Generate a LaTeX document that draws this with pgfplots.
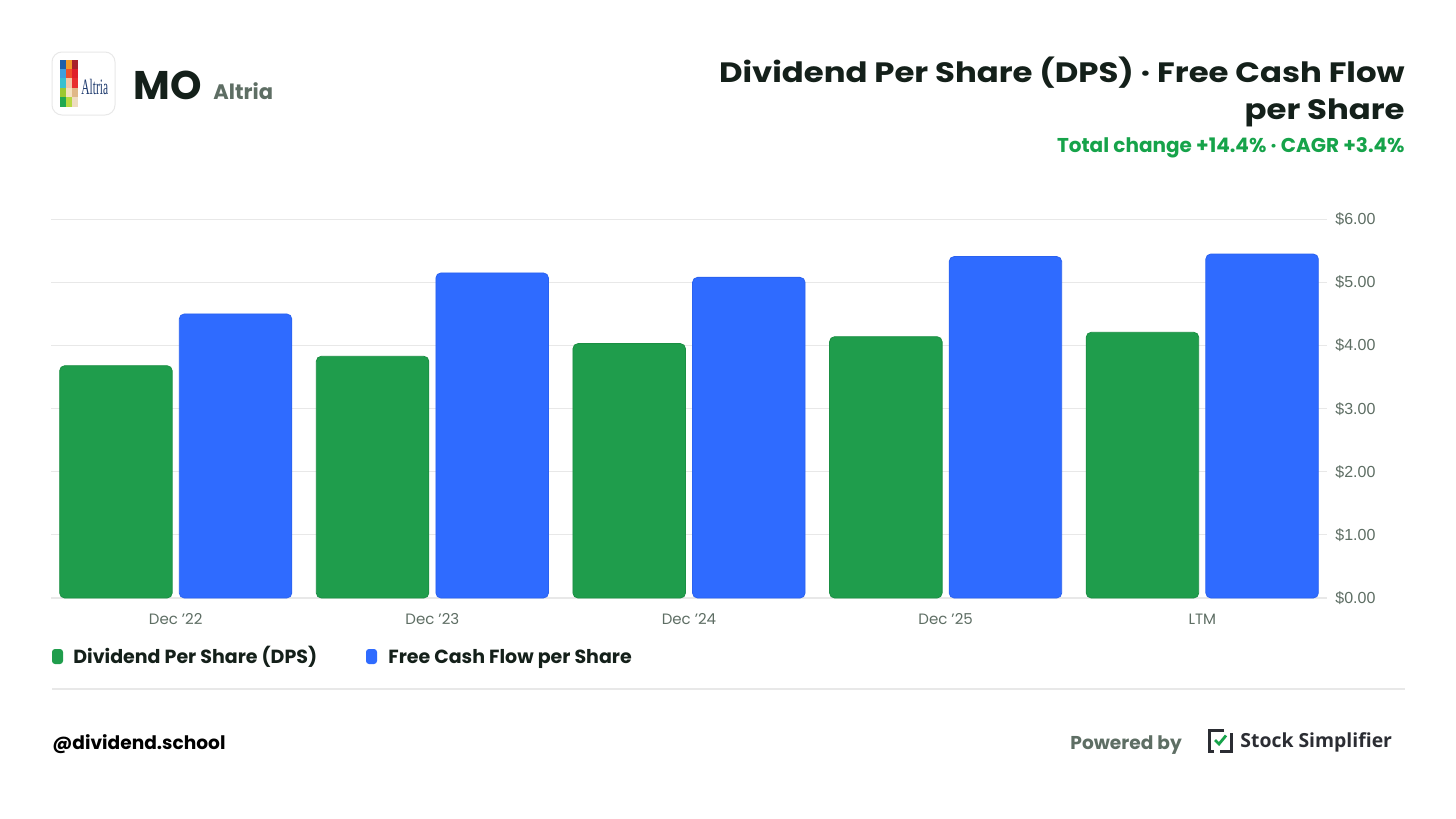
\documentclass[border=0pt]{standalone}
\usepackage{pgfplots}
\pgfplotsset{compat=1.18}
\usepackage{fontspec}
\setmainfont{Poppins}
\newfontfamily\titlefont[FakeStretch=1.155]{Poppins}
\newfontfamily\tickfont{Liberation Sans}
\newfontfamily\ssfont{Open Sans}
\newfontfamily\seriffont[FakeStretch=0.52]{Liberation Serif}
\definecolor{dpsgreen}{HTML}{1F9D4C}
\definecolor{dpsedge}{HTML}{1A8F43}
\definecolor{fcfblue}{HTML}{2F6BFF}
\definecolor{fcfedge}{HTML}{2A62F0}
\definecolor{titledark}{HTML}{14201A}
\definecolor{graytext}{HTML}{5E6E64}
\definecolor{subgreen}{HTML}{16A34A}
\definecolor{gridgray}{HTML}{E8E8E8}
\definecolor{navy}{HTML}{1E3A6E}
\definecolor{ssdark}{HTML}{2B2D33}
\definecolor{la}{HTML}{1F5FA8}
\definecolor{lb}{HTML}{F29A2A}
\definecolor{lc}{HTML}{A8222A}
\definecolor{ld}{HTML}{3FA0DD}
\definecolor{le}{HTML}{F0502A}
\definecolor{lf}{HTML}{E0202A}
\definecolor{lg}{HTML}{38C0D0}
\definecolor{lh}{HTML}{F2C8A8}
\definecolor{li}{HTML}{E83030}
\definecolor{lj}{HTML}{9CC830}
\definecolor{lk}{HTML}{F4E2C0}
\definecolor{ll}{HTML}{E0B888}
\definecolor{lm}{HTML}{20A850}
\definecolor{ln}{HTML}{B8D840}
\definecolor{lo}{HTML}{EEDCC0}
\begin{document}
\begin{tikzpicture}
\useasboundingbox (0,0) rectangle (728pt,-409.5pt);
\fill[white] (0,0) rectangle (728pt,-409.5pt);
\begin{scope}[x=0.5pt,y=-0.5pt]
  % logo
  \draw[draw=gridgray, fill=white, line width=0.5pt, rounded corners=5pt] (52,52) rectangle (115,115);
  \fill[la] (60,60) rectangle (66,69);
  \fill[lb] (66,60) rectangle (72,69);
  \fill[lc] (72,60) rectangle (78,69);
  \fill[ld] (60,69) rectangle (66,78);
  \fill[le] (66,69) rectangle (72,78);
  \fill[lf] (72,69) rectangle (78,78);
  \fill[lg] (60,78) rectangle (66,88);
  \fill[lh] (66,78) rectangle (72,88);
  \fill[li] (72,78) rectangle (78,88);
  \fill[lj] (60,88) rectangle (66,97);
  \fill[lk] (66,88) rectangle (72,97);
  \fill[ll] (72,88) rectangle (78,97);
  \fill[lm] (60,97) rectangle (66,107);
  \fill[ln] (66,97) rectangle (72,107);
  \fill[lo] (72,97) rectangle (78,107);
  \node[anchor=base west, inner sep=0pt, text=navy, font=\seriffont\fontsize{11}{11}\selectfont] at (81,94) {Altria};
  % header
  \node[anchor=base west, inner sep=0pt, text=titledark, font=\fontsize{20}{20}\selectfont\bfseries] at (133,99) {MO};
  \node[anchor=base west, inner sep=0pt, text=graytext, font=\fontsize{10.5}{10.5}\selectfont\bfseries] at (213,99) {Altria};
  \node[anchor=base east, inner sep=0pt, text=titledark, font=\titlefont\fontsize{14}{14}\selectfont\bfseries] at (1405,82) {Dividend Per Share (DPS) · Free Cash Flow};
  \node[anchor=base east, inner sep=0pt, text=titledark, font=\titlefont\fontsize{14}{14}\selectfont\bfseries] at (1405,119.5) {per Share};
  \node[anchor=base east, inner sep=0pt, text=subgreen, font=\fontsize{10}{10}\selectfont\bfseries] at (1405,152.5) {Total change +14.4\% · CAGR +3.4\%};
  % legend
  \fill[dpsgreen, rounded corners=1.5pt] (52,649) rectangle (63,664);
  \node[anchor=base west, inner sep=0pt, text=titledark, font=\fontsize{9.5}{9.5}\selectfont\bfseries] at (73,663) {Dividend Per Share (DPS)};
  \fill[fcfblue, rounded corners=1.5pt] (366,649) rectangle (377,664);
  \node[anchor=base west, inner sep=0pt, text=titledark, font=\fontsize{9.5}{9.5}\selectfont\bfseries] at (388,663) {Free Cash Flow per Share};
  % separator
  \draw[gridgray, line width=0.6pt] (52,689) -- (1405,689);
  % footer
  \node[anchor=base west, inner sep=0pt, text=black, font=\fontsize{9.3}{9.3}\selectfont\bfseries] at (52,749) {@dividend.school};
  \node[anchor=base west, inner sep=0pt, text=graytext, font=\fontsize{9.3}{9.3}\selectfont\bfseries] at (1070,749) {Powered by};
  \draw[ssdark, line width=1.5pt] (1224,730) -- (1209,730) -- (1209,751) -- (1214,751);
  \draw[ssdark, line width=1.5pt] (1220,751) -- (1231,751) -- (1231,733);
  \draw[subgreen, line width=1.4pt] (1215,740) -- (1219,744) -- (1226,735.5);
  \node[anchor=base west, inner sep=0pt, text=ssdark, font=\ssfont\fontsize{9.7}{9.7}\selectfont\bfseries] at (1240,747) {Stock Simplifier};
\end{scope}
\begin{axis}[
  at={(25.5pt,-299pt)}, anchor=south west,
  scale only axis, width=638pt, height=189.35pt,
  xmin=-0.486, xmax=4.486, ymin=0, ymax=6,
  axis line style={draw=none},
  xtick={0,1,2,3,4},
  xticklabels={Dec ’22, Dec ’23, Dec ’24, Dec ’25, LTM},
  xticklabel style={anchor=base, inner sep=0pt, yshift=-13pt, text=graytext, font=\fontsize{7.5}{7.5}\selectfont},
  x tick style={draw=none},
  ytick={0,1,2,3,4,5,6},
  yticklabels={\$0.00,\$1.00,\$2.00,\$3.00,\$4.00,\$5.00,\$6.00},
  ytick pos=right, yticklabel pos=right,
  yticklabel style={anchor=west, inner sep=0pt, xshift=4pt, text=graytext, font=\tickfont\fontsize{8}{8}\selectfont},
  y tick style={draw=none},
  ymajorgrids, grid style={gridgray, line width=0.6pt},
  clip=false,
]
\addplot[ybar, bar width=56.25pt, bar shift=-29.9pt, fill=dpsgreen, draw=dpsedge, line width=0.4pt, rounded corners=2.5pt]
  coordinates {(0,3.68) (1,3.83) (2,4.03) (3,4.14) (4,4.21)};
\addplot[ybar, bar width=56.25pt, bar shift=29.9pt, fill=fcfblue, draw=fcfedge, line width=0.4pt, rounded corners=2.5pt]
  coordinates {(0,4.50) (1,5.15) (2,5.08) (3,5.41) (4,5.45)};
\end{axis}
\end{tikzpicture}
\end{document}
